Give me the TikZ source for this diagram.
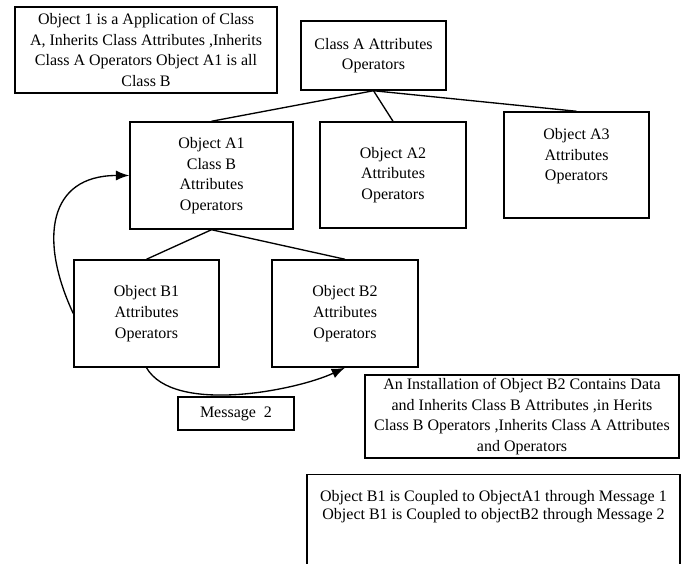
\documentclass[tikz,border=0pt]{standalone}
\usepackage{fontspec}
\setmainfont{Liberation Serif}
\usetikzlibrary{arrows.meta}
\tikzset{objbox/.style={draw,line width=1.1pt,align=center,inner sep=2pt,font=\fontsize{12pt}{15.5pt}\selectfont},
msgarrow/.style={-{Latex[length=10pt,width=7.5pt]},line width=1pt}}

\begin{document}
\begin{tikzpicture}[x=0.75pt,y=0.75pt,line width=1pt]
\useasboundingbox (0,0) rectangle (686,564);
% notes
\node (note1) at (146,514) [objbox,minimum width=196.5pt,minimum height=64.5pt] {Object 1 is a Application of Class\\A, Inherits Class Attributes ,Inherits\\Class A Operators Object A1 is all\\Class B};
\node (install) at (522,147.5) [objbox,minimum width=235.5pt,minimum height=62.25pt] {An Installation of Object B2 Contains Data\\and Inherits Class B Attributes ,in Herits\\Class B Operators ,Inherits Class A Attributes\\and Operators};
\node (couple) at (493.5,90) [objbox,anchor=north,minimum width=279.75pt,inner ysep=12pt,text depth=80pt,font=\fontsize{12pt}{13.3pt}\selectfont] {Object B1 is Coupled to ObjectA1 through Message 1\\Object B1 is Coupled to objectB2 through Message 2};
\node (msg2) at (236,150.5) [objbox,minimum width=87pt,minimum height=24.75pt] {Message~~2};
% class and objects
\node (classA) at (373.5,508.5) [objbox,minimum width=108.75pt,minimum height=51.75pt] {Class A Attributes\\Operators};
\node (A1) at (211.5,388.5) [objbox,minimum width=122.25pt,minimum height=80.25pt] {Object A1\\Class B\\Attributes\\Operators};
\node (A2) at (393,389) [objbox,minimum width=109.5pt,minimum height=79.5pt] {Object A2\\Attributes\\Operators};
\node (A3) at (576.5,399) [objbox,minimum width=108.75pt,minimum height=79.5pt] {Object A3\\Attributes\\Operators\\~};
\node (B1) at (146.5,250.5) [objbox,minimum width=108.75pt,minimum height=80.25pt] {Object B1\\Attributes\\Operators};
\node (B2) at (345,250.5) [objbox,minimum width=109.5pt,minimum height=80.25pt] {Object B2\\Attributes\\Operators};

\foreach \x in {A1, A2, A3} {
\draw (classA.south) -- (\x.north);
}
\foreach \x in {B1, B2} {
\draw (A1.south) -- (\x.north);
}
% messages
\draw[msgarrow] (B1.west) to[out=115,in=180,looseness=1.4] (A1.west);
\draw[msgarrow] (B1.south) to[out=-60,in=-155,looseness=0.7] (B2.south);
\end{tikzpicture}
\end{document}
